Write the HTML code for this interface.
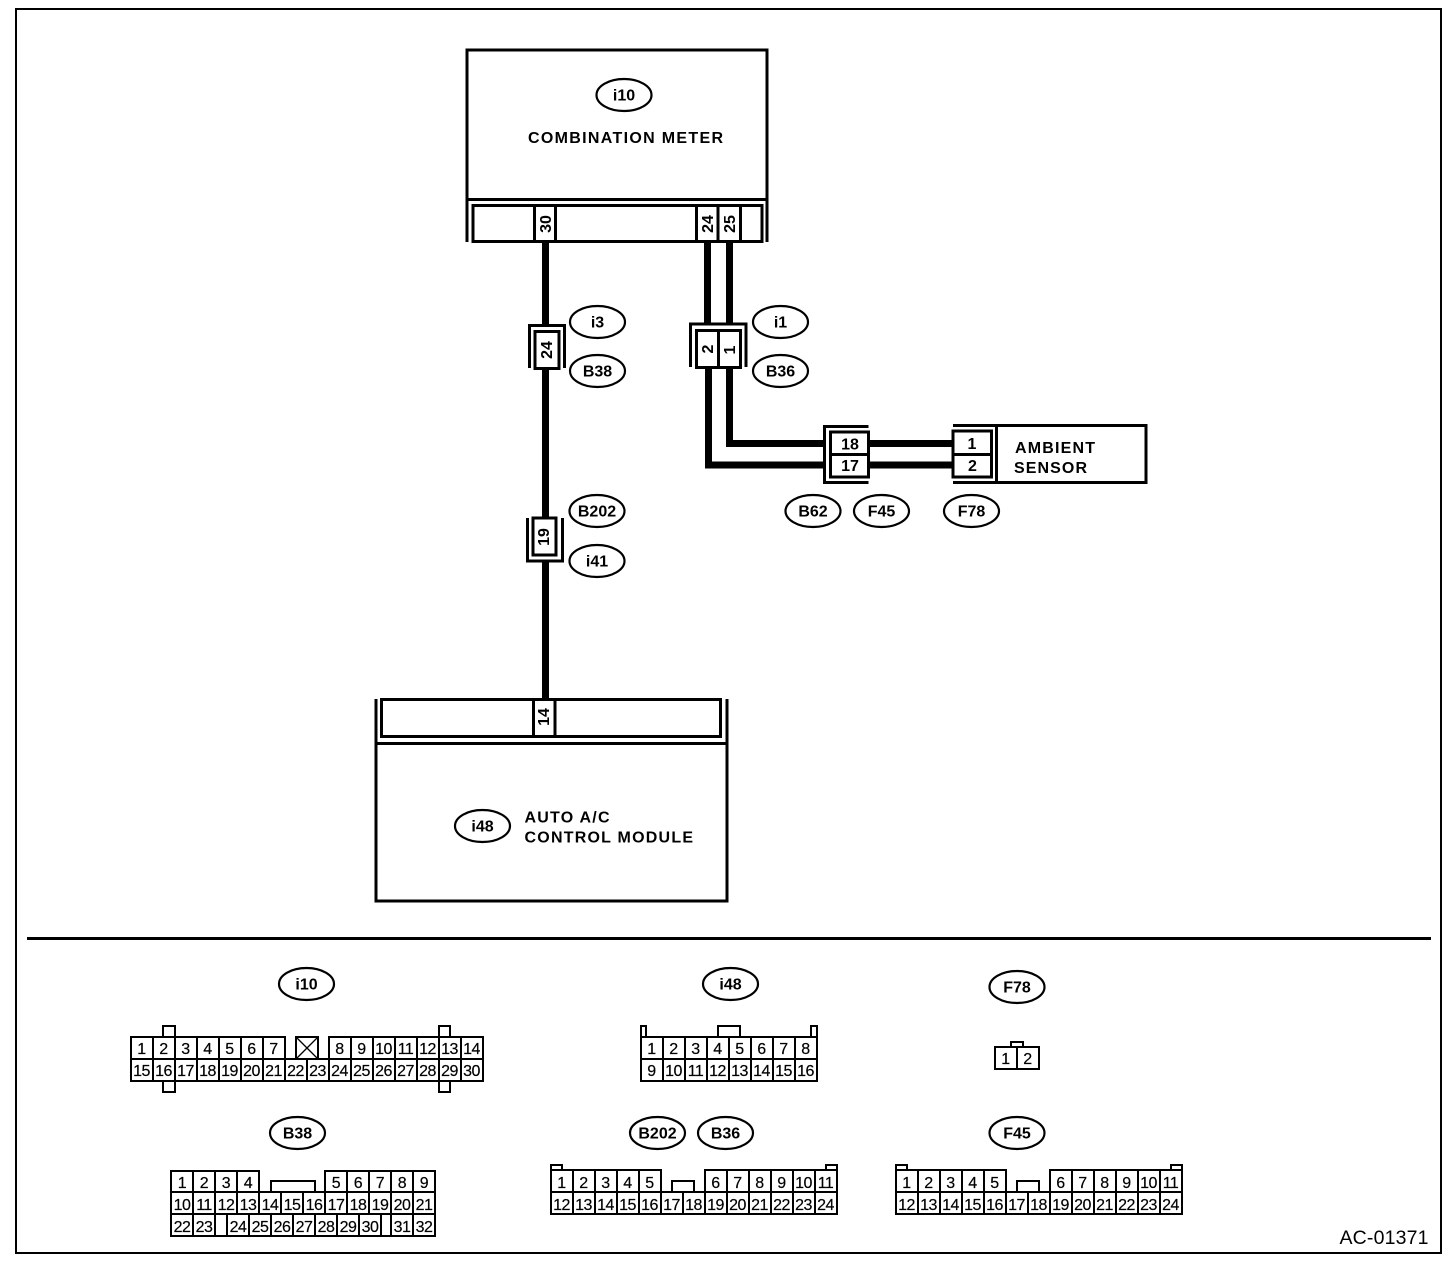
<!DOCTYPE html>
<html><head><meta charset="utf-8"><title>Wiring diagram AC-01371</title>
<style>
html,body{margin:0;padding:0;background:#fff}
svg{display:block}
text{font-family:"Liberation Sans",sans-serif;fill:#000;text-anchor:middle}
.n text{font-size:16px;stroke:#000;stroke-width:.2;letter-spacing:-.5px}
.o text{font-size:16px;font-weight:bold}
.o ellipse{fill:#fff;stroke:#000;stroke-width:2.2}
.r text{font-size:16px;font-weight:bold}
.l text{font-size:16px;font-weight:bold;text-anchor:start}
.s{fill:none;stroke:#000;stroke-width:2;shape-rendering:crispEdges}
.m{fill:none;stroke:#000;stroke-width:1.6;shape-rendering:crispEdges}
.w{fill:none;stroke:#000;stroke-width:7;shape-rendering:crispEdges}
.t{fill:none;stroke:#000;stroke-width:3;shape-rendering:crispEdges}
</style></head><body>
<svg width="1456" height="1266" viewBox="0 0 1456 1266" xmlns="http://www.w3.org/2000/svg">
<rect width="1456" height="1266" fill="#fff"/>
<rect class="s" x="16" y="9" width="1425" height="1244"/>
<path class="t" d="M27 938.5H1431"/>

<!-- wires -->
<path class="w" d="M545.5 242V326M545.5 368V519M545.5 561V700M707.5 242V324M729.5 242V324M708.5 367V465H826M729.5 367V443.5H826M868 443.5H953M868 465H953"/>

<!-- combination meter -->
<path class="t" d="M467 242V50H767V242M467 199.5H767"/>
<rect class="t" x="473" y="205.5" width="289" height="36"/>
<path class="t" d="M534.5 205V241M555.5 205V241M696.5 205V241M718 205V241M740.5 205V241"/>

<!-- i3/B38 connector -->
<path class="t" d="M529.5 368V325.5H564.5V368"/>
<rect class="t" x="535" y="331.5" width="24" height="37"/>
<!-- i1/B36 connector -->
<path class="t" d="M690.5 367V324H746V367"/>
<rect class="t" x="696.5" y="330.5" width="44" height="37"/>
<path class="t" d="M718.5 330V367"/>
<!-- B202/i41 connector -->
<path class="t" d="M527.5 518V561H562.5V518"/>
<rect class="t" x="533" y="518" width="23" height="37"/>
<!-- B62/F45 connector -->
<path class="t" d="M868.5 426.5H824.5V482.5H868.5"/>
<rect class="t" x="830.5" y="432" width="38" height="45"/>
<path class="t" d="M830 454.5H868"/>
<!-- ambient sensor -->
<path class="t" d="M953 425.5H1146V482.5H953"/>
<rect class="t" x="953" y="431" width="38.5" height="46"/>
<path class="t" d="M953 454.5H991M996.5 425V482"/>
<!-- auto a/c module -->
<path class="t" d="M376 699V901H727V699M376 743.5H727"/>
<rect class="t" x="381.5" y="699.5" width="339" height="37"/>
<path class="t" d="M533.5 699V736M555 699V736"/>

<!-- rotated numbers -->
<g class="r">
<text transform="rotate(-90 551 224)" x="551" y="224">30</text>
<text transform="rotate(-90 713 224)" x="713" y="224">24</text>
<text transform="rotate(-90 735 224)" x="735" y="224">25</text>
<text transform="rotate(-90 552 350)" x="552" y="350">24</text>
<text transform="rotate(-90 713 349)" x="713" y="349">2</text>
<text transform="rotate(-90 735 350)" x="735" y="350">1</text>
<text transform="rotate(-90 549 537)" x="549" y="537">19</text>
<text transform="rotate(-90 549 717)" x="549" y="717">14</text>
<text x="850" y="449.5">18</text>
<text x="850" y="471">17</text>
<text x="972" y="449">1</text>
<text x="972.5" y="471">2</text>
</g>

<!-- labels -->
<g class="l">
<text x="528" y="143" textLength="195" lengthAdjust="spacing">COMBINATION METER</text>
<text x="1015" y="453" textLength="80" lengthAdjust="spacing">AMBIENT</text>
<text x="1014" y="473" textLength="73" lengthAdjust="spacing">SENSOR</text>
<text x="524.5" y="822.5" textLength="85" lengthAdjust="spacing">AUTO A/C</text>
<text x="524.5" y="842.5" textLength="168.5" lengthAdjust="spacing">CONTROL MODULE</text>
</g>
<text x="1384" y="1244" style="font-size:19.5px" textLength="89" lengthAdjust="spacing">AC-01371</text>

<!-- ovals -->
<g class="o">
<ellipse cx="624" cy="95" rx="27.5" ry="16"/><text x="624" y="100.5">i10</text>
<ellipse cx="597.5" cy="322" rx="27.5" ry="16"/><text x="597.5" y="327.5">i3</text>
<ellipse cx="597.5" cy="371" rx="27.5" ry="16"/><text x="597.5" y="376.5">B38</text>
<ellipse cx="780.5" cy="322" rx="27.5" ry="16"/><text x="780.5" y="327.5">i1</text>
<ellipse cx="780.5" cy="371" rx="27.5" ry="16"/><text x="780.5" y="376.5">B36</text>
<ellipse cx="597" cy="511" rx="27.5" ry="16"/><text x="597" y="516.5">B202</text>
<ellipse cx="597" cy="561" rx="27.5" ry="16"/><text x="597" y="566.5">i41</text>
<ellipse cx="813" cy="511" rx="27.5" ry="16"/><text x="813" y="516.5">B62</text>
<ellipse cx="881.5" cy="511" rx="27.5" ry="16"/><text x="881.5" y="516.5">F45</text>
<ellipse cx="971.5" cy="511" rx="27.5" ry="16"/><text x="971.5" y="516.5">F78</text>
<ellipse cx="482.5" cy="826" rx="27.5" ry="16"/><text x="482.5" y="831.5">i48</text>
<ellipse cx="306.5" cy="984" rx="27.5" ry="16"/><text x="306.5" y="989.5">i10</text>
<ellipse cx="297.5" cy="1133" rx="27.5" ry="16"/><text x="297.5" y="1138.5">B38</text>
<ellipse cx="730.5" cy="984" rx="27.5" ry="16"/><text x="730.5" y="989.5">i48</text>
<ellipse cx="657.5" cy="1133" rx="27.5" ry="16"/><text x="657.5" y="1138.5">B202</text>
<ellipse cx="725.5" cy="1133" rx="27.5" ry="16"/><text x="725.5" y="1138.5">B36</text>
<ellipse cx="1017" cy="987" rx="27.5" ry="16"/><text x="1017" y="992.5">F78</text>
<ellipse cx="1017" cy="1133" rx="27.5" ry="16"/><text x="1017" y="1138.5">F45</text>
</g>

<!-- i10 pinout -->
<path class="m" d="M131 1059V1037H285V1059M153 1037V1059M175 1037V1059M197 1037V1059M219 1037V1059M241 1037V1059M263 1037V1059M329 1059V1037H483V1059M351 1037V1059M373 1037V1059M395 1037V1059M417 1037V1059M439 1037V1059M461 1037V1059"/>
<rect class="m" x="131" y="1059" width="352" height="22"/>
<path class="m" d="M153 1059V1081M175 1059V1081M197 1059V1081M219 1059V1081M241 1059V1081M263 1059V1081M285 1059V1081M307 1059V1081M329 1059V1081M351 1059V1081M373 1059V1081M395 1059V1081M417 1059V1081M439 1059V1081M461 1059V1081"/>
<path class="m" d="M163 1037V1026H175V1037M163 1081V1092H175V1081M439 1037V1026H450V1037M439 1081V1092H450V1081"/>
<rect class="m" x="296" y="1037" width="22" height="22"/>
<path d="M296 1037L318 1059M318 1037L296 1059" stroke="#000" stroke-width="1.3" fill="none"/>
<g class="n">
<text x="141.5" y="1054">1</text><text x="163.5" y="1054">2</text><text x="185.5" y="1054">3</text><text x="207.5" y="1054">4</text><text x="229.5" y="1054">5</text><text x="251.5" y="1054">6</text><text x="273.5" y="1054">7</text>
<text x="339.5" y="1054">8</text><text x="361.5" y="1054">9</text><text x="383.5" y="1054">10</text><text x="405.5" y="1054">11</text><text x="427.5" y="1054">12</text><text x="449.5" y="1054">13</text><text x="471.5" y="1054">14</text>
<text x="141.5" y="1076">15</text><text x="163.5" y="1076">16</text><text x="185.5" y="1076">17</text><text x="207.5" y="1076">18</text><text x="229.5" y="1076">19</text><text x="251.5" y="1076">20</text><text x="273.5" y="1076">21</text><text x="295.5" y="1076">22</text><text x="317.5" y="1076">23</text><text x="339.5" y="1076">24</text><text x="361.5" y="1076">25</text><text x="383.5" y="1076">26</text><text x="405.5" y="1076">27</text><text x="427.5" y="1076">28</text><text x="449.5" y="1076">29</text><text x="471.5" y="1076">30</text>
</g>

<!-- B38 pinout -->
<path class="m" d="M171 1192V1171H259V1192M193 1171V1192M215 1171V1192M237 1171V1192M325 1192V1171H435V1192M347 1171V1192M369 1171V1192M391 1171V1192M413 1171V1192M271 1192V1181H315V1192"/>
<rect class="m" x="171" y="1192" width="264" height="44"/>
<path class="m" d="M171 1214H435M193 1192V1236M215 1192V1236M237 1192V1214M259 1192V1214M281 1192V1214M303 1192V1214M325 1192V1214M347 1192V1214M369 1192V1214M391 1192V1236M413 1192V1236M227 1214V1236M249 1214V1236M271 1214V1236M293 1214V1236M315 1214V1236M337 1214V1236M359 1214V1236M381 1214V1236"/>
<g class="n">
<text x="182" y="1188">1</text><text x="204" y="1188">2</text><text x="226" y="1188">3</text><text x="248" y="1188">4</text><text x="336" y="1188">5</text><text x="358" y="1188">6</text><text x="380" y="1188">7</text><text x="402" y="1188">8</text><text x="424" y="1188">9</text>
<text x="182" y="1210">10</text><text x="204" y="1210">11</text><text x="226" y="1210">12</text><text x="248" y="1210">13</text><text x="270" y="1210">14</text><text x="292" y="1210">15</text><text x="314" y="1210">16</text><text x="336" y="1210">17</text><text x="358" y="1210">18</text><text x="380" y="1210">19</text><text x="402" y="1210">20</text><text x="424" y="1210">21</text>
<text x="182" y="1232">22</text><text x="204" y="1232">23</text><text x="238" y="1232">24</text><text x="260" y="1232">25</text><text x="282" y="1232">26</text><text x="304" y="1232">27</text><text x="326" y="1232">28</text><text x="348" y="1232">29</text><text x="370" y="1232">30</text><text x="402" y="1232">31</text><text x="424" y="1232">32</text>
</g>

<!-- i48 pinout -->
<rect class="m" x="641" y="1037" width="176" height="44"/>
<path class="m" d="M641 1059H817M663 1037V1081M685 1037V1081M707 1037V1081M729 1037V1081M751 1037V1081M773 1037V1081M795 1037V1081M641 1037V1026H646V1037M718 1037V1026H740V1037M811 1037V1026H817V1037"/>
<g class="n">
<text x="651.5" y="1054">1</text><text x="673.5" y="1054">2</text><text x="695.5" y="1054">3</text><text x="717.5" y="1054">4</text><text x="739.5" y="1054">5</text><text x="761.5" y="1054">6</text><text x="783.5" y="1054">7</text><text x="805.5" y="1054">8</text>
<text x="651.5" y="1076">9</text><text x="673.5" y="1076">10</text><text x="695.5" y="1076">11</text><text x="717.5" y="1076">12</text><text x="739.5" y="1076">13</text><text x="761.5" y="1076">14</text><text x="783.5" y="1076">15</text><text x="805.5" y="1076">16</text>
</g>

<!-- F78 pinout -->
<rect class="m" x="995" y="1047" width="44" height="22"/>
<path class="m" d="M1017 1047V1069M1011 1047V1042H1023V1047"/>
<g class="n"><text x="1005.5" y="1064">1</text><text x="1027.5" y="1064">2</text></g>

<!-- B202/B36 pinout -->
<path class="m" d="M551 1192V1170H661V1192M573 1170V1192M595 1170V1192M617 1170V1192M639 1170V1192M705 1192V1170H837V1192M727 1170V1192M749 1170V1192M771 1170V1192M793 1170V1192M815 1170V1192M672 1192V1181H694V1192M551 1170V1165H562V1170M826 1170V1165H837V1170"/>
<rect class="m" x="551" y="1192" width="286" height="22"/>
<path class="m" d="M573 1192V1214M595 1192V1214M617 1192V1214M639 1192V1214M661 1192V1214M683 1192V1214M705 1192V1214M727 1192V1214M749 1192V1214M771 1192V1214M793 1192V1214M815 1192V1214"/>
<g class="n">
<text x="561.5" y="1188">1</text><text x="583.5" y="1188">2</text><text x="605.5" y="1188">3</text><text x="627.5" y="1188">4</text><text x="649.5" y="1188">5</text><text x="715.5" y="1188">6</text><text x="737.5" y="1188">7</text><text x="759.5" y="1188">8</text><text x="781.5" y="1188">9</text><text x="803.5" y="1188">10</text><text x="825.5" y="1188">11</text>
<text x="561.5" y="1210">12</text><text x="583.5" y="1210">13</text><text x="605.5" y="1210">14</text><text x="627.5" y="1210">15</text><text x="649.5" y="1210">16</text><text x="671.5" y="1210">17</text><text x="693.5" y="1210">18</text><text x="715.5" y="1210">19</text><text x="737.5" y="1210">20</text><text x="759.5" y="1210">21</text><text x="781.5" y="1210">22</text><text x="803.5" y="1210">23</text><text x="825.5" y="1210">24</text>
</g>

<!-- F45 pinout -->
<path class="m" d="M896 1192V1170H1006V1192M918 1170V1192M940 1170V1192M962 1170V1192M984 1170V1192M1050 1192V1170H1182V1192M1072 1170V1192M1094 1170V1192M1116 1170V1192M1138 1170V1192M1160 1170V1192M1017 1192V1181H1039V1192M896 1170V1165H907V1170M1171 1170V1165H1182V1170"/>
<rect class="m" x="896" y="1192" width="286" height="22"/>
<path class="m" d="M918 1192V1214M940 1192V1214M962 1192V1214M984 1192V1214M1006 1192V1214M1028 1192V1214M1050 1192V1214M1072 1192V1214M1094 1192V1214M1116 1192V1214M1138 1192V1214M1160 1192V1214"/>
<g class="n">
<text x="906.5" y="1188">1</text><text x="928.5" y="1188">2</text><text x="950.5" y="1188">3</text><text x="972.5" y="1188">4</text><text x="994.5" y="1188">5</text><text x="1060.5" y="1188">6</text><text x="1082.5" y="1188">7</text><text x="1104.5" y="1188">8</text><text x="1126.5" y="1188">9</text><text x="1148.5" y="1188">10</text><text x="1170.5" y="1188">11</text>
<text x="906.5" y="1210">12</text><text x="928.5" y="1210">13</text><text x="950.5" y="1210">14</text><text x="972.5" y="1210">15</text><text x="994.5" y="1210">16</text><text x="1016.5" y="1210">17</text><text x="1038.5" y="1210">18</text><text x="1060.5" y="1210">19</text><text x="1082.5" y="1210">20</text><text x="1104.5" y="1210">21</text><text x="1126.5" y="1210">22</text><text x="1148.5" y="1210">23</text><text x="1170.5" y="1210">24</text>
</g>
</svg>
</body></html>
